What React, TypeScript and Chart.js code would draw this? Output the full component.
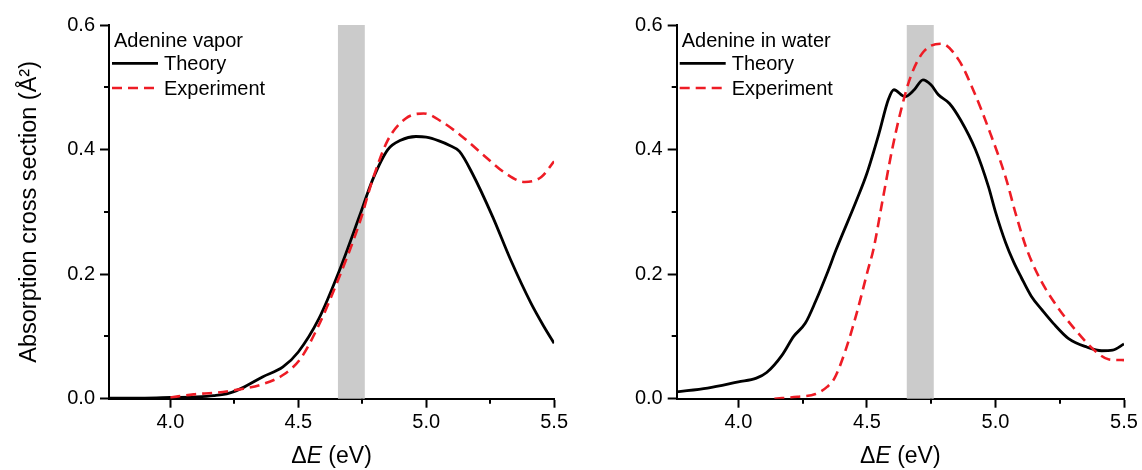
import React, { useEffect, useRef } from "react";
import { Chart, registerables } from "chart.js";

Chart.register(...registerables);

const FONT = "'Liberation Sans', Arial, Helvetica, sans-serif";

// Axes
const X_MIN = 3.76;
const X_MAX = 5.5;
const Y_MIN = 0;
const Y_MAX = 0.6;
const xMajorTicks = [4.0, 4.5, 5.0, 5.5];
const xMinorTicks = [4.25, 4.75, 5.25];
const yMajorTicks = [0.0, 0.2, 0.4, 0.6];
const yMinorTicks = [0.1, 0.3, 0.5];
const bandRange = [4.655, 4.76];

const seriesLabels = ["Theory", "Experiment"];
const panelTitles = ["Adenine vapor", "Adenine in water"];

// Adenine vapor – theory
const vaporTheoryX = [3.76, 3.9, 4.0, 4.1, 4.17, 4.23, 4.29, 4.36, 4.44, 4.5, 4.58, 4.66, 4.74, 4.79, 4.85, 4.9, 4.96, 5.0, 5.05, 5.09, 5.13, 5.18, 5.26, 5.33, 5.41, 5.46, 5.5];
const vaporTheoryY = [0.001, 0.001, 0.002, 0.003, 0.005, 0.009, 0.019, 0.035, 0.051, 0.075, 0.128, 0.205, 0.294, 0.351, 0.4, 0.415, 0.421, 0.42, 0.414, 0.407, 0.397, 0.362, 0.292, 0.223, 0.153, 0.116, 0.089];

// Adenine vapor – experiment
const vaporExpX = [4.0, 4.09, 4.18, 4.27, 4.35, 4.44, 4.51, 4.58, 4.65, 4.74, 4.79, 4.85, 4.92, 4.99, 5.06, 5.14, 5.23, 5.31, 5.385, 5.45, 5.5];
const vaporExpY = [0.002, 0.007, 0.0097, 0.015, 0.022, 0.038, 0.065, 0.118, 0.185, 0.283, 0.351, 0.415, 0.45, 0.458, 0.445, 0.421, 0.389, 0.362, 0.348, 0.356, 0.381];

// Adenine in water – theory
const waterTheoryX = [3.76, 3.88, 4.0, 4.07, 4.11, 4.17, 4.215, 4.26, 4.3, 4.345, 4.38, 4.46, 4.5, 4.547, 4.583, 4.605, 4.648, 4.684, 4.718, 4.749, 4.778, 4.821, 4.865, 4.922, 4.973, 5.0, 5.04, 5.07, 5.1, 5.14, 5.182, 5.225, 5.283, 5.355, 5.413, 5.456, 5.5];
const waterTheoryY = [0.011, 0.017, 0.027, 0.033, 0.042, 0.07, 0.1, 0.121, 0.156, 0.201, 0.239, 0.319, 0.362, 0.426, 0.48, 0.496, 0.485, 0.496, 0.512, 0.504, 0.488, 0.474, 0.447, 0.4, 0.34, 0.3, 0.25, 0.22, 0.195, 0.164, 0.142, 0.121, 0.097, 0.083, 0.077, 0.078, 0.088];

// Adenine in water – experiment
const waterExpX = [4.14, 4.23, 4.3, 4.345, 4.374, 4.417, 4.46, 4.504, 4.525, 4.561, 4.598, 4.633, 4.67, 4.72, 4.79, 4.857, 4.908, 4.98, 5.04, 5.08, 5.12, 5.17, 5.24, 5.312, 5.384, 5.442, 5.5];
const waterExpY = [0.0, 0.003, 0.0075, 0.019, 0.033, 0.078, 0.137, 0.207, 0.239, 0.319, 0.4, 0.464, 0.517, 0.557, 0.57, 0.544, 0.501, 0.426, 0.355, 0.295, 0.242, 0.195, 0.148, 0.11, 0.078, 0.063, 0.062];

const THEORY_COLOR = "#000000";
const EXP_COLOR = "#ee1c25";
const BAND_COLOR = "#cbcbcb";

const toPoints = (xs: number[], ys: number[]) => xs.map((x, i) => ({ x, y: ys[i] }));

type PanelProps = {
  left: number;
  title: string;
  theory: { x: number; y: number }[];
  experiment: { x: number; y: number }[];
  yTitle: boolean;
  yWidth: number;
  padRight: number;
};

function Panel({ left, title, theory, experiment, yTitle, yWidth, padRight }: PanelProps) {
  const ref = useRef<HTMLCanvasElement>(null);

  useEffect(() => {
    const canvas = ref.current!;
    const decor = {
      id: "decor",
      beforeDatasetsDraw(chart: any) {
        const { ctx, chartArea, scales } = chart;
        const x0 = scales.x.getPixelForValue(bandRange[0]);
        const x1 = scales.x.getPixelForValue(bandRange[1]);
        ctx.save();
        ctx.fillStyle = BAND_COLOR;
        ctx.fillRect(x0, chartArea.top, x1 - x0, chartArea.bottom - chartArea.top);
        ctx.restore();
      },
      afterDraw(chart: any) {
        const { ctx, chartArea, scales } = chart;
        ctx.save();
        // minor ticks
        ctx.strokeStyle = "#000";
        ctx.lineWidth = 2;
        ctx.beginPath();
        for (const v of xMinorTicks) {
          const px = Math.round(scales.x.getPixelForValue(v));
          ctx.moveTo(px, chartArea.bottom);
          ctx.lineTo(px, chartArea.bottom + 5);
        }
        for (const v of yMinorTicks) {
          const py = Math.round(scales.y.getPixelForValue(v));
          ctx.moveTo(chartArea.left, py);
          ctx.lineTo(chartArea.left - 5, py);
        }
        ctx.stroke();

        // legend
        const lx = chartArea.left;
        ctx.fillStyle = "#000";
        ctx.font = `20px ${FONT}`;
        ctx.textBaseline = "alphabetic";
        ctx.textAlign = "left";
        ctx.fillText(title, lx + 5, 46.5);
        const ds = chart.data.datasets;
        const rows = [
          { d: ds[0], y: 63.3, base: 70 },
          { d: ds[1], y: 88, base: 94.5 },
        ];
        for (const r of rows) {
          ctx.beginPath();
          ctx.strokeStyle = r.d.borderColor;
          ctx.lineWidth = r.d.borderWidth;
          ctx.setLineDash(r.d.borderDash || []);
          ctx.moveTo(lx + 3, r.y);
          ctx.lineTo(lx + 49, r.y);
          ctx.stroke();
          ctx.setLineDash([]);
          ctx.fillText(r.d.label, lx + 55, r.base);
        }

        // x-axis title: ΔE (eV), E italic
        const cx = (chartArea.left + chartArea.right) / 2;
        const parts = [
          { t: "\u0394", it: false },
          { t: "E", it: true },
          { t: " (eV)", it: false },
        ];
        let total = 0;
        const widths: number[] = [];
        for (const p of parts) {
          ctx.font = `${p.it ? "italic " : ""}23px ${FONT}`;
          const w = ctx.measureText(p.t).width;
          widths.push(w);
          total += w;
        }
        let x = cx - total / 2;
        parts.forEach((p, i) => {
          ctx.font = `${p.it ? "italic " : ""}23px ${FONT}`;
          ctx.fillText(p.t, x, 463);
          x += widths[i];
        });
        ctx.restore();
      },
    };

    const chart = new Chart(canvas, {
      type: "line",
      data: {
        datasets: [
          {
            label: seriesLabels[0],
            data: theory,
            borderColor: THEORY_COLOR,
            borderWidth: 2.8,
            pointRadius: 0,
            cubicInterpolationMode: "monotone",
            fill: false,
            order: 1,
          },
          {
            label: seriesLabels[1],
            data: experiment,
            borderColor: EXP_COLOR,
            borderWidth: 2.6,
            borderDash: [10, 6],
            pointRadius: 0,
            cubicInterpolationMode: "monotone",
            fill: false,
            order: 0,
          },
        ],
      },
      options: {
        animation: false,
        responsive: false,
        devicePixelRatio: 1,
        layout: { padding: { left: 0, right: padRight, top: 25, bottom: 0 } },
        plugins: { legend: { display: false }, tooltip: { enabled: false } },
        scales: {
          x: {
            type: "linear",
            min: X_MIN,
            max: X_MAX,
            afterBuildTicks: (s: any) => {
              s.ticks = xMajorTicks.map((v) => ({ value: v }));
            },
            afterFit: (s: any) => {
              s.height = 71.3;
            },
            ticks: {
              color: "#000",
              font: { family: FONT, size: 20 },
              padding: 3,
              maxRotation: 0,
              autoSkip: false,
              callback: (v: any) => Number(v).toFixed(1),
            },
            grid: { drawOnChartArea: false, drawTicks: true, tickLength: 9, tickWidth: 2, tickColor: "#000" },
            border: { display: true, color: "#000", width: 2 },
          },
          y: {
            type: "linear",
            min: Y_MIN,
            max: Y_MAX,
            afterBuildTicks: (s: any) => {
              s.ticks = yMajorTicks.map((v) => ({ value: v }));
            },
            afterFit: (s: any) => {
              s.width = yWidth;
            },
            ticks: {
              color: "#000",
              font: { family: FONT, size: 20 },
              padding: 5,
              autoSkip: false,
              callback: (v: any) => Number(v).toFixed(1),
            },
            grid: { drawOnChartArea: false, drawTicks: true, tickLength: 9, tickWidth: 2, tickColor: "#000" },
            border: { display: true, color: "#000", width: 2 },
            title: {
              display: yTitle,
              text: "Absorption cross section (\u00C5\u00B2)",
              color: "#000",
              font: { family: FONT, size: 23.5 },
              padding: { top: 15, bottom: 0 },
            },
          },
        },
      },
      plugins: [decor],
    } as any);
    return () => chart.destroy();
  }, []);

  return (
    <canvas
      ref={ref}
      width={571}
      height={470}
      style={{ position: "absolute", left, top: 0, width: 571, height: 470 }}
    />
  );
}

export default function App() {
  return (
    <div style={{ position: "absolute", left: 0, top: 0, width: 1142, height: 470, background: "#fff" }}>
      <Panel
        left={0}
        title={panelTitles[0]}
        theory={toPoints(vaporTheoryX, vaporTheoryY)}
        experiment={toPoints(vaporExpX, vaporExpY)}
        yTitle={true}
        yWidth={109}
        padRight={15}
      />
      <Panel
        left={571}
        title={panelTitles[1]}
        theory={toPoints(waterTheoryX, waterTheoryY)}
        experiment={toPoints(waterExpX, waterExpY)}
        yTitle={false}
        yWidth={105.7}
        padRight={18}
      />
    </div>
  );
}
